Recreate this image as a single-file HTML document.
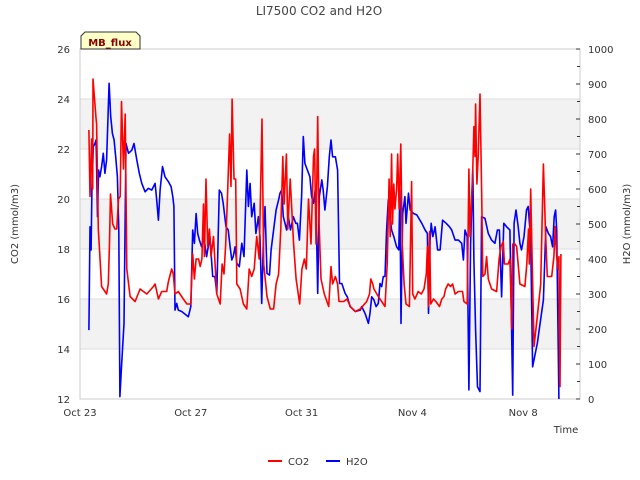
<!DOCTYPE html>
<html><head><meta charset="utf-8"><style>
body{margin:0;background:#fff;}
svg{display:block;font-family:"DejaVu Sans","Liberation Sans",sans-serif;}
</style></head><body>
<svg id="chart" width="640" height="480" viewBox="0 0 640 480">
<text x="319" y="15" text-anchor="middle" font-size="12" fill="#444">LI7500 CO2 and H2O</text>
<g id="bands"></g>
<g id="grid"></g>
<rect x="80" y="49" width="500" height="350" fill="none" stroke="#ccc"/>
<g id="axes"></g>
<g id="series"></g>
<text x="18" y="224" transform="rotate(-90 18 224)" text-anchor="middle" font-size="10" fill="#333">CO2 (mmol/m3)</text>
<text x="630" y="224" transform="rotate(-90 630 224)" text-anchor="middle" font-size="10" fill="#333">H2O (mmol/m3)</text>
<text x="566" y="433" text-anchor="middle" font-size="10" fill="#333">Time</text>
<g>
<path d="M85,32 L136,32 L140,36 L140,49 L81,49 L81,36 Z" fill="#ffffc8" stroke="#333" stroke-width="1"/>
<text x="110" y="46" text-anchor="middle" font-size="10" font-weight="bold" fill="#8b0000">MB_flux</text>
</g>
<g>
<g><line x1="268" y1="461" x2="282" y2="461" stroke="#f00" stroke-width="2"/><text x="288" y="465" font-size="10" fill="#333">CO2</text></g>
<g><line x1="326" y1="461" x2="340" y2="461" stroke="#00f" stroke-width="2"/><text x="346" y="465" font-size="10" fill="#333">H2O</text></g>
</g>
</svg>
<script>
const co2Days=[0.32,0.36,0.42,0.46,0.47,0.58,0.6,0.66,0.72,0.78,0.96,1.02,1.06,1.1,1.18,1.26,1.33,1.39,1.45,1.5,1.57,1.63,1.69,1.81,1.99,2.17,2.41,2.65,2.71,2.83,2.95,3.13,3.19,3.31,3.37,3.43,3.55,3.73,3.86,4.0,4.07,4.13,4.19,4.28,4.34,4.4,4.46,4.49,4.55,4.61,4.67,4.73,4.82,4.94,5.06,5.13,5.2,5.26,5.32,5.4,5.45,5.49,5.56,5.62,5.66,5.78,5.9,6.02,6.11,6.2,6.29,6.38,6.47,6.57,6.63,6.75,6.87,6.99,7.08,7.17,7.25,7.32,7.37,7.45,7.5,7.59,7.71,7.8,7.93,8.01,8.1,8.17,8.25,8.34,8.43,8.47,8.52,8.58,8.63,8.7,8.82,8.98,9.06,9.12,9.22,9.3,9.35,9.52,9.64,9.76,9.94,10.12,10.35,10.45,10.5,10.57,10.61,10.77,10.95,11.01,11.09,11.16,11.2,11.25,11.28,11.33,11.37,11.43,11.47,11.52,11.58,11.63,11.7,11.77,11.89,11.97,12.01,12.09,12.21,12.32,12.42,12.5,12.54,12.58,12.62,12.66,12.76,12.85,12.98,13.06,13.14,13.2,13.29,13.38,13.45,13.54,13.66,13.81,13.86,13.98,14.04,14.08,14.18,14.22,14.26,14.28,14.33,14.38,14.44,14.5,14.54,14.62,14.68,14.74,14.86,15.04,15.13,15.2,15.28,15.32,15.38,15.46,15.52,15.59,15.62,15.7,15.76,15.88,16.06,16.13,16.19,16.22,16.27,16.31,16.39,16.51,16.63,16.73,16.8,16.87,17.03,17.11,17.16,17.21,17.26,17.29,17.33,17.36];
const co2Values=[22.76,20.1,22.4,20.4,24.8,23.2,23.0,18.8,17.7,16.5,16.2,16.6,18.1,20.2,19.0,18.8,18.8,20.0,20.1,23.9,21.2,23.4,17.2,16.1,15.9,16.4,16.2,16.5,16.6,16.0,16.3,16.3,16.7,17.2,17.0,16.2,16.3,16.0,15.8,15.8,17.8,16.8,17.6,17.6,17.3,17.6,19.8,17.7,20.8,18.1,18.8,17.7,18.5,16.2,15.8,17.4,17.0,18.2,20.0,22.6,20.5,24.0,20.8,20.8,16.6,16.4,15.8,15.6,17.2,16.9,17.2,18.5,17.6,23.2,17.4,16.1,15.6,15.6,16.6,17.0,18.8,21.7,19.8,21.8,18.8,20.8,18.2,16.8,15.8,17.2,17.6,17.2,20.0,18.2,21.7,22.0,18.2,23.3,19.0,16.8,16.2,15.7,17.3,16.6,16.9,16.6,15.9,15.9,16.0,15.7,15.5,15.6,15.9,16.2,16.8,16.6,16.4,16.1,15.8,15.7,17.4,20.8,18.5,21.8,19.0,20.6,19.6,20.4,21.8,19.6,22.2,18.2,16.6,15.8,15.7,20.7,16.2,16.0,16.3,16.2,16.4,17.0,18.1,15.7,18.7,15.8,16.0,15.9,15.7,16.0,16.1,16.4,16.6,16.5,16.6,16.2,16.3,16.3,15.9,15.8,21.2,18.5,21.2,22.9,21.7,23.8,20.6,21.8,24.2,20.4,16.9,17.0,17.7,16.8,16.4,16.3,17.6,18.1,18.3,17.4,17.4,17.4,17.6,14.8,18.2,18.2,18.1,16.6,16.5,17.4,18.8,17.4,20.4,18.2,14.1,15.3,16.6,21.4,18.8,16.9,16.9,17.7,18.9,17.7,17.2,17.7,12.5,17.8];
const h2oDays=[0.32,0.36,0.4,0.43,0.48,0.54,0.58,0.63,0.67,0.72,0.78,0.84,0.9,0.96,1.05,1.11,1.17,1.23,1.29,1.35,1.4,1.44,1.5,1.59,1.66,1.75,1.87,1.95,2.05,2.14,2.23,2.35,2.47,2.59,2.71,2.77,2.83,2.89,2.98,3.07,3.19,3.29,3.35,3.39,3.43,3.49,3.55,3.67,3.83,3.91,4.0,4.07,4.13,4.19,4.25,4.31,4.39,4.47,4.57,4.69,4.79,4.87,4.94,5.03,5.11,5.17,5.27,5.35,5.42,5.48,5.53,5.6,5.66,5.75,5.84,5.92,6.02,6.08,6.14,6.2,6.29,6.35,6.44,6.5,6.56,6.63,6.68,6.75,6.84,6.9,6.99,7.08,7.17,7.22,7.28,7.34,7.4,7.46,7.52,7.6,7.7,7.79,7.85,7.92,8.0,8.06,8.12,8.21,8.3,8.36,8.43,8.49,8.52,8.58,8.64,8.73,8.78,8.84,8.93,9.0,9.06,9.12,9.22,9.3,9.37,9.45,9.57,9.65,9.75,9.94,10.12,10.17,10.29,10.41,10.47,10.53,10.61,10.69,10.77,10.83,10.89,10.95,11.01,11.07,11.13,11.19,11.25,11.33,11.43,11.51,11.55,11.59,11.65,11.73,11.77,11.86,11.92,12.04,12.16,12.34,12.46,12.54,12.58,12.64,12.68,12.74,12.82,12.91,13.0,13.09,13.22,13.34,13.42,13.54,13.66,13.78,13.84,13.9,13.98,14.04,14.1,14.18,14.22,14.28,14.35,14.44,14.5,14.62,14.74,14.86,14.98,15.07,15.14,15.22,15.3,15.4,15.52,15.62,15.67,15.74,15.82,15.88,15.94,16.03,16.12,16.18,16.27,16.34,16.51,16.73,16.82,16.91,16.99,17.06,17.12,17.17,17.21,17.29];
const h2oValues=[197,492,426,597,721,730,740,521,654,635,664,702,645,683,902,807,759,740,692,635,483,7,92,216,730,702,711,730,683,645,616,592,602,597,616,569,511,597,664,635,621,607,578,550,254,273,254,250,240,235,264,483,445,530,473,454,435,464,407,464,350,350,302,597,588,559,492,483,435,397,407,435,388,378,445,407,654,550,616,521,559,473,521,464,273,483,550,359,354,426,483,540,569,588,597,521,502,483,521,483,521,502,502,454,578,750,673,654,635,578,559,597,559,302,578,626,597,540,607,692,740,692,692,654,330,330,302,292,264,250,254,264,245,216,245,292,283,264,273,330,321,350,350,483,569,521,483,464,435,426,597,216,530,578,502,588,540,530,526,502,483,473,245,454,502,464,492,426,426,511,502,492,483,454,454,445,397,483,464,26,445,654,397,197,35,21,521,516,473,454,445,483,483,292,502,492,483,11,502,540,492,445,426,464,540,550,454,92,159,283,492,473,464,435,521,540,483,0];
const co2Ticks=[12,14,16,18,20,22,24,26];
const h2oTicks=[0,100,200,300,400,500,600,700,800,900,1000];
const xTickDays=[0,4,8,12,16];
const xTickLabels=["Oct 23","Oct 27","Oct 31","Nov 4","Nov 8"];
const bandRanges=[[14,16],[18,20],[22,24]];

const NS="http://www.w3.org/2000/svg";
const L=80,R=580,T=49,B=399;
const xS=d=>L+d*27.7;
const yC=v=>B-(v-12)/14*(B-T);
const yH=v=>B-v/1000*(B-T);
function mk(tag,attrs,parent){const e=document.createElementNS(NS,tag);for(const k in attrs)e.setAttribute(k,attrs[k]);parent.appendChild(e);return e;}
const bands=document.getElementById('bands'),grid=document.getElementById('grid'),axes=document.getElementById('axes'),series=document.getElementById('series');
bandRanges.forEach(b=>{const r=mk('rect',{x:L,y:yC(b[1]),width:R-L,height:yC(b[0])-yC(b[1]),fill:'#f2f2f2'},bands);

});
co2Ticks.forEach(v=>{const g=mk('line',{x1:L,x2:R,y1:yC(v),y2:yC(v),stroke:'#ddd'},grid);


const t=mk('text',{x:70,y:yC(v)+4,'text-anchor':'end','font-size':10,fill:'#333'},axes);t.textContent=v;

});
h2oTicks.forEach(v=>{const t=mk('text',{x:588,y:yH(v)+4,'font-size':10,fill:'#333'},axes);t.textContent=v;


mk('line',{x1:576,x2:580,y1:yH(v),y2:yH(v),stroke:'#333'},axes);
if(v<1000)mk('line',{x1:577,x2:580,y1:yH(v+50),y2:yH(v+50),stroke:'#333'},axes);});
xTickDays.forEach((d,i)=>{const t=mk('text',{x:xS(d),y:416,'text-anchor':'middle','font-size':10,fill:'#333'},axes);t.textContent=xTickLabels[i];

});
function line(days,vals,ys,color,name){const p=days.map((d,i)=>xS(d).toFixed(1)+','+ys(vals[i]).toFixed(1)).join(' ');
const e=mk('polyline',{points:p,fill:'none',stroke:color,'stroke-width':1.6,'stroke-linejoin':'round'},series);

}
line(h2oDays,h2oValues,yH,'#0000ff','h2o-line');
line(co2Days,co2Values,yC,'#ff0000','co2-line');
</script>
</body></html>
